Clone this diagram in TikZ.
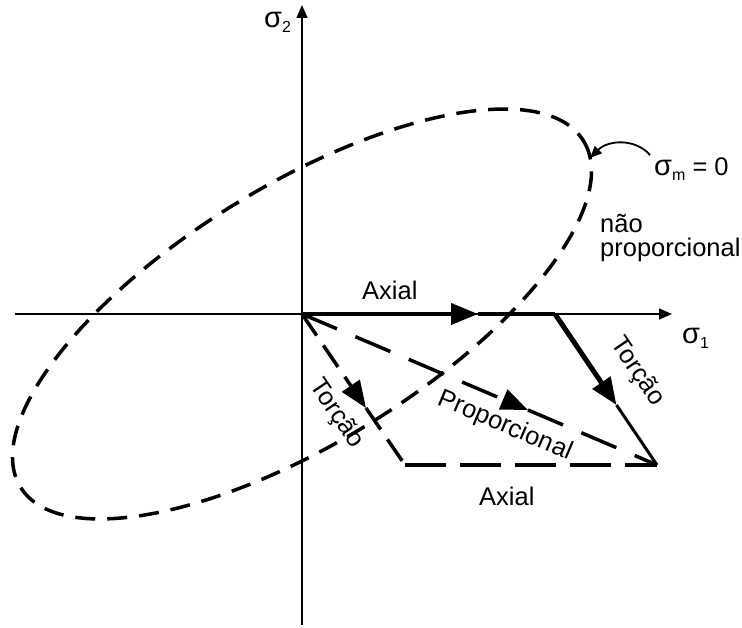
\documentclass[tikz,border=0pt]{standalone}
\usepackage{fontspec}
\setmainfont{Liberation Sans}
\usetikzlibrary{arrows.meta}
\newcommand\subsc[1]{\raisebox{-5pt}{\fontsize{16}{16}\selectfont #1}}
\newcommand\sig{{\fontsize{29}{30}\selectfont σ}}
\begin{document}
\begin{tikzpicture}[x=1pt,y=-1pt,
  axisline/.style={line width=1.4pt,-{Triangle[length=13pt,width=11pt]}},
  lbl/.style={font=\fontsize{25.5}{28}\selectfont, inner sep=0pt},
  bigtip/.style={-{Triangle[length=27pt,width=21pt]}},
  solidpath/.style={line width=4pt},
  dpath/.style={line width=3.5pt},
  ellipsedash/.style={line width=3.5pt, dash pattern=on 20pt off 12pt},
  propdash/.style={dash pattern=on 38pt off 20pt},
  torsdash/.style={dash pattern=on 26pt off 12pt},
  axdash/.style={dash pattern=on 41pt off 14pt}
]
\useasboundingbox (0,0) rectangle (742,628);
% key points
\coordinate (O) at (302,314);
\coordinate (A) at (555,314);
\coordinate (B) at (657,465);
\coordinate (C) at (405,465);
\coordinate (ta) at (478,314);
\coordinate (tt) at (616.5,405);
\coordinate (tp) at (528,410);
\coordinate (tl) at (366,408);
\coordinate (xl) at (15,314);
\coordinate (xr) at (672,314);
\coordinate (yb) at (302,625);
\coordinate (yt) at (302,5);
% axes
\draw[axisline] (xl) -- (xr);
\draw[axisline] (yb) -- (yt);
% ellipse sigma_m = 0
\draw[ellipsedash, rotate around={31.6:(O)}] (O) ellipse [x radius=330.5, y radius=128.7];
% Axial then Torcao (solid)
\draw[solidpath, bigtip] (O) -- (ta);
\draw[solidpath] (ta) -- (A);
\draw[line width=5pt, bigtip] (A) -- (tt);
\draw[line width=3pt] (tt) -- (B);
% Proportional (dashed)
\draw[dpath, propdash, bigtip] (O) -- (tp);
\draw[dpath, propdash] (tp) -- (B);
% Torcao then Axial (dashed)
\draw[dpath, torsdash, bigtip] (O) -- (tl);
\draw[dpath, torsdash] (tl) -- (C);
\draw[dpath, axdash] (C) -- (B);
% sigma_m pointer
\coordinate (sm) at (650,155);
\coordinate (se) at (590,158);
\draw[line width=1.8pt, -{Triangle[length=12pt,width=10pt]}] (sm) .. controls (635,138) and (608,140) .. (se);
% labels
\node[lbl, anchor=base west] (s2) at (264,28) {\sig\subsc{2}};
\node[lbl, anchor=base west] (s1) at (682,344) {\sig\subsc{1}};
\node[lbl, anchor=base west] (smz) at (654,176) {\sig\subsc{m} = 0};
\node[lbl, anchor=base west] (nao) at (600,233) {não};
\node[lbl, anchor=base west] (prop) at (600,257) {proporcional};
\node[lbl, anchor=base west] (axtop) at (362,300) {Axial};
\node[lbl, anchor=base west] (axbot) at (479,505) {Axial};
\node[lbl, rotate=-56] (torr) at (637,372) {Torção};
\node[lbl, rotate=-56] (torl) at (336,414) {Torção};
\node[lbl, rotate=-23] (propl) at (505,426) {Proporcional};
\end{tikzpicture}
\end{document}
